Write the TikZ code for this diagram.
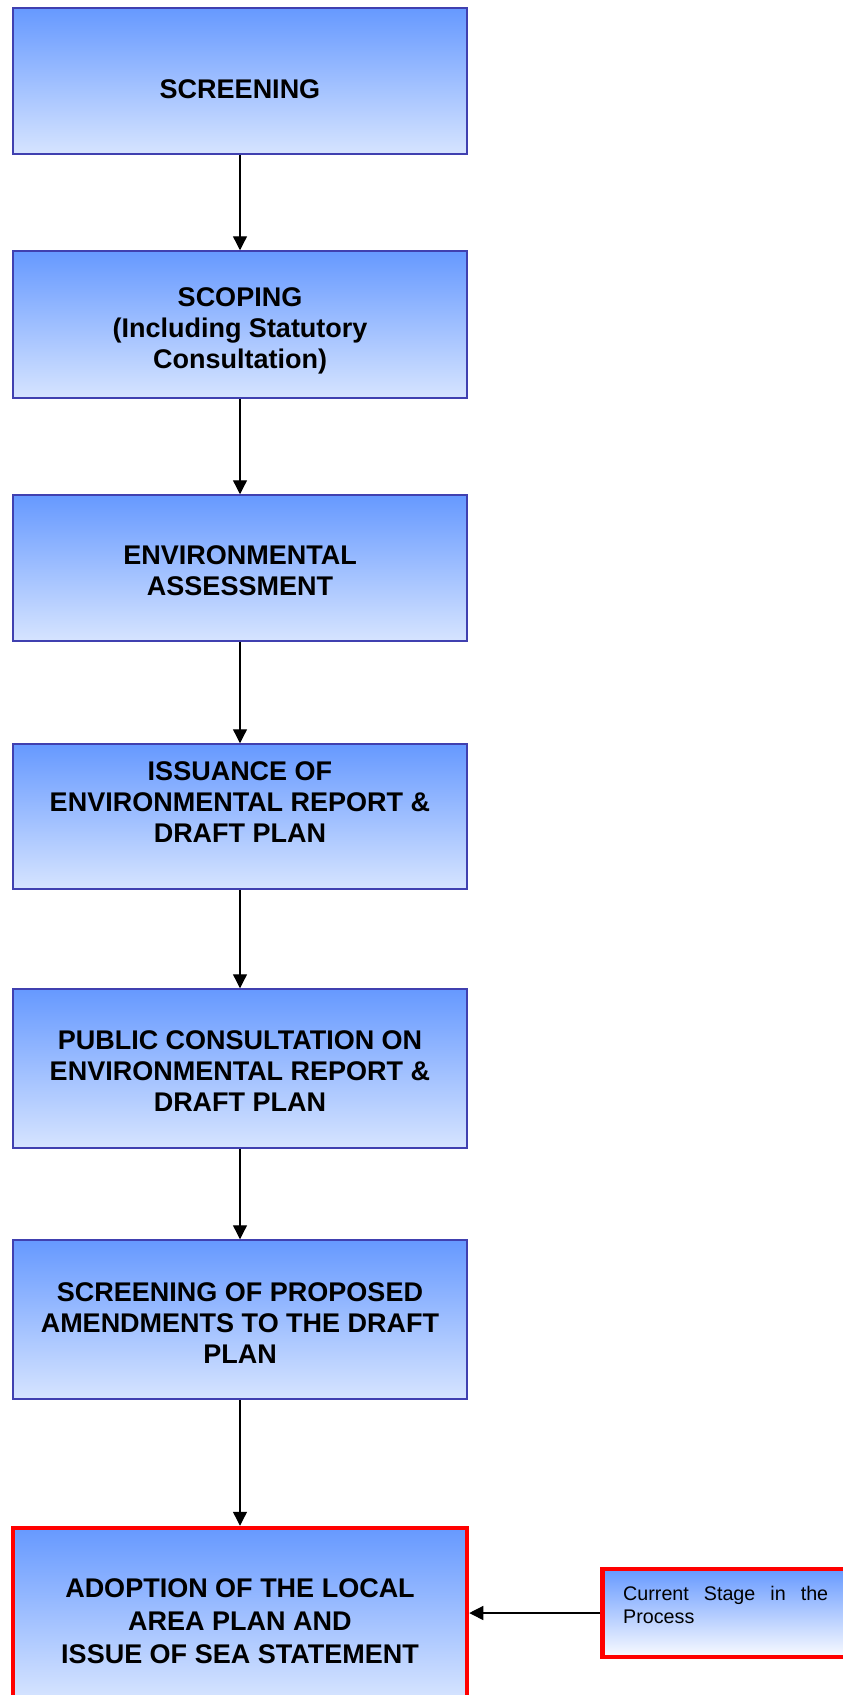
\documentclass[tikz,border=0pt]{standalone}
\usepackage{fontspec}
\setmainfont{Liberation Sans}
\usetikzlibrary{positioning,arrows.meta}

\definecolor{stagetop}{RGB}{102,153,255}
\definecolor{stagebottom}{RGB}{214,228,255}
\definecolor{stageline}{RGB}{64,64,176}
\definecolor{notebottom}{RGB}{250,251,255}

\begin{document}
\begin{tikzpicture}[x=1pt, y=-1pt,
    stage/.style={draw=stageline, line width=1.5pt, top color=stagetop, bottom color=stagebottom,
        minimum width=454pt, minimum height=146pt},
    current/.style={stage, draw=red, line width=4.5pt},
    stagetext/.style={inner sep=0pt, align=center, font=\fontsize{27}{31}\selectfont\bfseries},
    note/.style={draw=red, line width=4.5pt, top color=stagetop, bottom color=notebottom,
        minimum height=88pt, minimum width=260pt},
    notetext/.style={inner sep=0pt, align=left, font=\fontsize{19.7}{22.3}\selectfont},
    flow/.style={-{Triangle[width=14pt,length=14pt]}, line width=1.3pt}]
    \useasboundingbox (0,0) rectangle (843,1695);

    \node[stage] (s1) at (240,81) {};
    \node[stage, minimum height=147pt] (s2) at (240,324.5) {};
    \node[stage] (s3) at (240,568) {};
    \node[stage, minimum height=145pt] (s4) at (240,816.5) {};
    \node[stage, minimum height=159pt] (s5) at (240,1068.5) {};
    \node[stage, minimum height=159pt] (s6) at (240,1319.5) {};
    \node[current, minimum height=170pt] (s7) at (240,1613) {};

    \node[stagetext] (s1text) at (240,89.5) {SCREENING};
    \node[stagetext] (s2text) at (240,331) {SCOPING\\(Including Statutory\\Consultation)};
    \node[stagetext] (s3text) at (240,571) {ENVIRONMENTAL\\ASSESSMENT};
    \node[stagetext] (s4text) at (240,802) {ISSUANCE OF\\ENVIRONMENTAL REPORT \&\\DRAFT PLAN};
    \node[stagetext] (s5text) at (240,1071.5) {PUBLIC CONSULTATION ON\\ENVIRONMENTAL REPORT \&\\DRAFT PLAN};
    \node[stagetext] (s6text) at (240,1323) {SCREENING OF PROPOSED\\AMENDMENTS TO THE DRAFT\\PLAN};
    \node[stagetext, font=\fontsize{27}{33}\selectfont\bfseries] (s7text) at (240,1621) {ADOPTION OF THE LOCAL\\AREA PLAN AND\\ISSUE OF SEA STATEMENT};

    \node[note, anchor=west] (now) at (600,1613) {};
    \node[notetext, anchor=base west] (nowtext) at (623,1623) {\makebox[205pt]{Current\hfill Stage\hfill in\hfill the}\\Process};

    \draw[flow] (s1) -- (s2);
    \draw[flow] (s2) -- (s3);
    \draw[flow] (s3) -- (s4);
    \draw[flow] (s4) -- (s5);
    \draw[flow] (s5) -- (s6);
    \draw[flow] (s6) -- (s7);
    \draw[flow] (now) -- (s7);
\end{tikzpicture}
\end{document}
